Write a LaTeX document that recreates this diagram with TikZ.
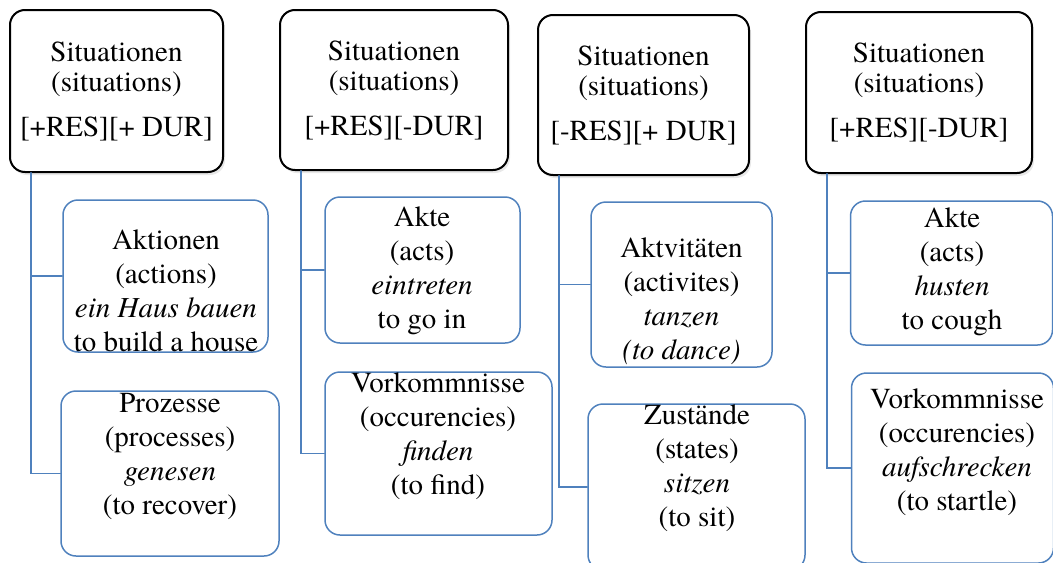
\documentclass[tikz,border=0pt]{standalone}
\usepackage{fontspec}
\setmainfont{texgyretermes}[Extension=.otf,UprightFont=*-regular,ItalicFont=*-italic,BoldFont=*-bold,BoldItalicFont=*-bolditalic]
\usetikzlibrary{shadows}
\definecolor{smartblue}{RGB}{79,129,189}

\begin{document}
\begin{tikzpicture}[x=0.5pt,y=-0.5pt,line cap=round,
	topbox/.style={draw=black,line width=1pt,rounded corners=7.5pt,fill=white,
		drop shadow={shadow xshift=1pt,shadow yshift=-1.5pt,opacity=0.18},
		align=center,inner sep=0pt,font=\fontsize{14.5}{15}\selectfont},
	itembox/.style={draw=smartblue,line width=0.75pt,rounded corners=7.5pt,fill=white,inner sep=0pt},
	itemtext/.style={align=center,inner sep=0pt,font=\fontsize{14.5}{17}\selectfont},
	link/.style={draw=smartblue,line width=0.75pt}]
		
		\useasboundingbox (0,0) rectangle (1053,562);
		
		% ---- 上层：四个 Situationen 框 ----
		\node[topbox,minimum width=106.5pt,minimum height=81pt] (s1) at (116.5,91)
		{Situationen\\(situations)\\[7.5pt]{[+RES][+ DUR]}};
		\node[topbox,minimum width=114pt,minimum height=80pt] (s2) at (394,90)
		{Situationen\\(situations)\\[7.5pt]{[+RES][-DUR]}};
		\node[topbox,minimum width=105.5pt,minimum height=80pt] (s3) at (643.5,95)
		{Situationen\\(situations)\\[7.5pt]{[-RES][+ DUR]}};
		\node[topbox,minimum width=113pt,minimum height=80.5pt] (s4) at (919,92.5)
		{Situationen\\(situations)\\[7.5pt]{[+RES][-DUR]}};
		
		% ---- 下层：子框（框与文字分开放）----
		\node[itembox,minimum width=102.5pt,minimum height=76pt] (a1) at (165.5,276) {};
		\node[itembox,minimum width=109pt,minimum height=82.5pt] (b1) at (170,473.5) {};
		\node[itembox,minimum width=97.5pt,minimum height=73pt] (a2) at (422.5,270) {};
		\node[itembox,minimum width=113.5pt,minimum height=81.5pt] (b2) at (438.5,453.5) {};
		\node[itembox,minimum width=90.5pt,minimum height=82.5pt] (a3) at (681.5,284.5) {};
		\node[itembox,minimum width=108.5pt,minimum height=83pt] (b3) at (696.5,487) {};
		\node[itembox,minimum width=101pt,minimum height=72pt] (a4) at (951.5,273) {};
		\node[itembox,minimum width=101pt,minimum height=95pt] (b4) at (952.5,468) {};
		
		\node[itemtext] (a1t) at (166,291) {Aktionen\\(actions)\\\textit{ein Haus bauen}\\to build a house};
		\node[itemtext] (b1t) at (170,456) {Prozesse\\(processes)\\\textit{genesen}\\(to recover)};
		\node[itemtext] (a2t) at (422,271) {Akte\\(acts)\\\textit{eintreten}\\to go in};
		\node[itemtext] (b2t) at (438,436) {Vorkommnisse\\(occurencies)\\\textit{finden}\\(to find)};
		\node[itemtext] (a3t) at (681.5,301) {Aktvitäten\\(activites)\\\textit{tanzen}\\\textit{(to dance)}};
		\node[itemtext] (b3t) at (697,468) {Zustände\\(states)\\\textit{sitzen}\\(to sit)};
		\node[itemtext] (a4t) at (952,272) {Akte\\(acts)\\\textit{husten}\\to cough};
		\node[itemtext] (b4t) at (957,452) {Vorkommnisse\\(occurencies)\\\textit{aufschrecken}\\(to startle)};
		
		% ---- 连线：折线 ----
		\draw[link] ([xshift=11pt]s1.south west) |- (a1.west);
		\draw[link] ([xshift=11pt]s1.south west) |- (b1.west);
		\draw[link] ([xshift=11pt]s2.south west) |- (a2.west);
		\draw[link] ([xshift=11pt]s2.south west) |- (b2.west);
		\draw[link] ([xshift=11pt]s3.south west) |- (a3.west);
		\draw[link] ([xshift=11pt]s3.south west) |- (b3.west);
		\draw[link] ([xshift=11pt]s4.south west) |- (a4.west);
		\draw[link] ([xshift=11pt]s4.south west) |- (b4.west);
		
	\end{tikzpicture}
\end{document}
